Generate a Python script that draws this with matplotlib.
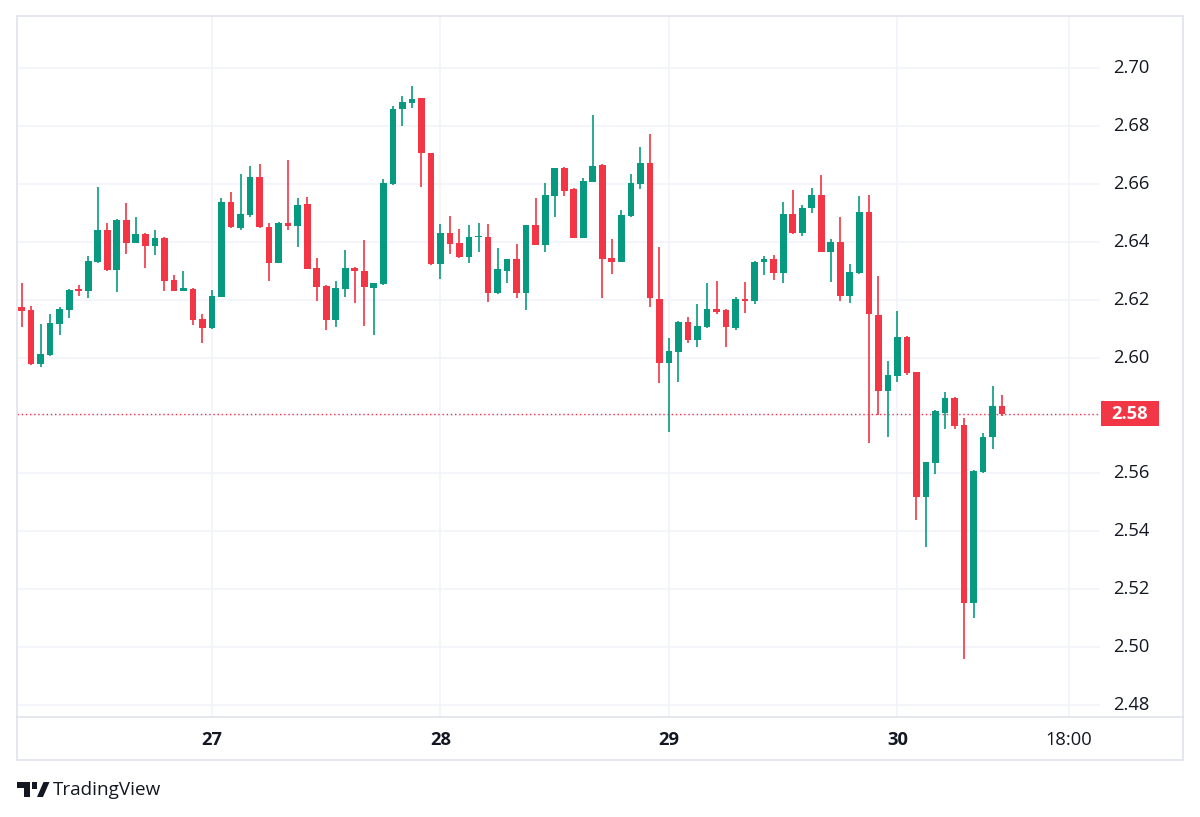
import numpy as np
import matplotlib
matplotlib.use("Agg")
import matplotlib.pyplot as plt
from matplotlib.patches import Rectangle, Polygon
from matplotlib.transforms import blended_transform_factory

# ---------------- data (hourly candles, first = 26th 04:00) ----------------
first_hour = 4
opens = [2.6174, 2.6164, 2.5978, 2.6009, 2.6116, 2.6164, 2.6235, 2.6231, 2.6331, 2.6440,
         2.6302, 2.6475, 2.6397, 2.6427, 2.6385, 2.6413, 2.6268, 2.6231, 2.6236, 2.6132,
         2.6101, 2.6210, 2.6536, 2.6446, 2.6492, 2.6625, 2.6452, 2.6328, 2.6466, 2.6454,
         2.6530, 2.6309, 2.6247, 2.6130, 2.6236, 2.6309, 2.6300, 2.6241, 2.6254, 2.6599,
         2.6857, 2.6878, 2.6895, 2.6705, 2.6323, 2.6429, 2.6395, 2.6346, 2.6415, 2.6417,
         2.6222, 2.6300, 2.6339, 2.6222, 2.6457, 2.6389, 2.6559, 2.6656, 2.6581, 2.6414,
         2.6607, 2.6665, 2.6343, 2.6331, 2.6489, 2.6599, 2.6673, 2.6201, 2.5982, 2.6020,
         2.6124, 2.6061, 2.6106, 2.6167, 2.6164, 2.6101, 2.6202, 2.6196, 2.6331, 2.6339,
         2.6293, 2.6496, 2.6429, 2.6515, 2.6561, 2.6366, 2.6400, 2.6212, 2.6291, 2.6504,
         2.6147, 2.5885, 2.5936, 2.6072, 2.5949, 2.5517, 2.5637, 2.5809, 2.5861, 2.5766,
         2.5151, 2.5604, 2.5724, 2.5833]
highs = [2.6256, 2.6178, 2.6116, 2.6150, 2.6176, 2.6235, 2.6250, 2.6351, 2.6590, 2.6466,
         2.6477, 2.6533, 2.6484, 2.6429, 2.6440, 2.6415, 2.6285, 2.6300, 2.6239, 2.6150,
         2.6233, 2.6550, 2.6571, 2.6634, 2.6663, 2.6667, 2.6466, 2.6468, 2.6682, 2.6550,
         2.6553, 2.6343, 2.6249, 2.6264, 2.6371, 2.6311, 2.6406, 2.6258, 2.6616, 2.6869,
         2.6903, 2.6938, 2.6897, 2.6707, 2.6461, 2.6489, 2.6443, 2.6458, 2.6466, 2.6461,
         2.6377, 2.6341, 2.6392, 2.6459, 2.6550, 2.6602, 2.6656, 2.6658, 2.6584, 2.6619,
         2.6838, 2.6667, 2.6408, 2.6510, 2.6633, 2.6728, 2.6772, 2.6383, 2.6066, 2.6126,
         2.6141, 2.6185, 2.6256, 2.6264, 2.6166, 2.6208, 2.6262, 2.6334, 2.6351, 2.6354,
         2.6538, 2.6579, 2.6527, 2.6584, 2.6630, 2.6408, 2.6484, 2.6322, 2.6558, 2.6561,
         2.6282, 2.5989, 2.6161, 2.6074, 2.5951, 2.5640, 2.5819, 2.5880, 2.5863, 2.5790,
         2.5611, 2.5740, 2.5902, 2.5871]
lows = [2.6104, 2.5975, 2.5967, 2.6005, 2.6078, 2.6137, 2.6212, 2.6206, 2.6328, 2.6300,
        2.6227, 2.6358, 2.6395, 2.6308, 2.6354, 2.6231, 2.6229, 2.6229, 2.6112, 2.6049,
        2.6099, 2.6208, 2.6448, 2.6440, 2.6484, 2.6448, 2.6265, 2.6326, 2.6440, 2.6381,
        2.6304, 2.6196, 2.6095, 2.6104, 2.6210, 2.6187, 2.6109, 2.6078, 2.6252, 2.6597,
        2.6801, 2.6861, 2.6590, 2.6321, 2.6270, 2.6358, 2.6344, 2.6328, 2.6366, 2.6193,
        2.6220, 2.6258, 2.6205, 2.6164, 2.6387, 2.6366, 2.6485, 2.6559, 2.6412, 2.6412,
        2.6605, 2.6205, 2.6288, 2.6329, 2.6487, 2.6581, 2.6173, 2.5911, 2.5744, 2.5916,
        2.6049, 2.6035, 2.6101, 2.6150, 2.6037, 2.6095, 2.6153, 2.6185, 2.6285, 2.6268,
        2.6258, 2.6427, 2.6420, 2.6500, 2.6364, 2.6262, 2.6196, 2.6187, 2.6289, 2.5704,
        2.5801, 2.5727, 2.5916, 2.5940, 2.5439, 2.5347, 2.5597, 2.5753, 2.5753, 2.4958,
        2.5101, 2.5602, 2.5684, 2.5798]
closes = [2.6162, 2.5978, 2.6012, 2.6120, 2.6169, 2.6233, 2.6231, 2.6334, 2.6440, 2.6302,
          2.6475, 2.6397, 2.6427, 2.6385, 2.6413, 2.6265, 2.6231, 2.6239, 2.6130, 2.6101,
          2.6212, 2.6538, 2.6450, 2.6496, 2.6625, 2.6450, 2.6328, 2.6466, 2.6454, 2.6527,
          2.6306, 2.6245, 2.6130, 2.6239, 2.6309, 2.6298, 2.6243, 2.6256, 2.6602, 2.6858,
          2.6882, 2.6893, 2.6705, 2.6323, 2.6429, 2.6392, 2.6346, 2.6417, 2.6420, 2.6222,
          2.6305, 2.6339, 2.6222, 2.6457, 2.6389, 2.6561, 2.6654, 2.6576, 2.6414, 2.6611,
          2.6663, 2.6339, 2.6331, 2.6492, 2.6602, 2.6671, 2.6205, 2.5982, 2.6024, 2.6124,
          2.6061, 2.6110, 2.6167, 2.6158, 2.6104, 2.6202, 2.6196, 2.6331, 2.6339, 2.6293,
          2.6496, 2.6429, 2.6517, 2.6561, 2.6366, 2.6400, 2.6212, 2.6294, 2.6504, 2.6149,
          2.5885, 2.5940, 2.6072, 2.5946, 2.5517, 2.5638, 2.5815, 2.5861, 2.5763, 2.5151,
          2.5608, 2.5727, 2.5833, 2.5805]

price_ticks = [2.48, 2.50, 2.52, 2.54, 2.56, 2.58, 2.60, 2.62, 2.64, 2.66, 2.68, 2.70]
time_tick_hours = [24, 48, 72, 96, 114]
time_tick_labels = ["27", "28", "29", "30", "18:00"]
time_tick_bold = [True, True, True, True, False]
last_label = "2.58"

# ---------------- styling ----------------
UP = "#089981"
DOWN = "#F23645"
GRID = "#F0F3FA"
BORDER = "#E0E3EB"
TEXT = "#131722"
FONT = ["Open Sans", "DejaVu Sans"]

W, H = 1200, 817
fig = plt.figure(figsize=(W / 100, H / 100), dpi=100)
fig.patch.set_facecolor("white")


def fx(px):
    return px / W


def fy(py):
    return 1 - py / H


# plot area: x 17..1100, y 15..717
ax = fig.add_axes([fx(17), fy(717), fx(1100) - fx(17), fy(15) - fy(717)])
ax.set_facecolor("white")
for s in ax.spines.values():
    s.set_visible(False)
ax.set_xticks([])
ax.set_yticks([])

hours = np.arange(first_hour, first_hour + len(opens))
ax.set_xlim(3.52, 117.28)
ax.set_ylim(2.47582, 2.71831)

# grid
for p in price_ticks:
    ax.axhline(p, color=GRID, lw=1.1, zorder=0)
for h in time_tick_hours:
    ax.axvline(h, color=GRID, lw=1.1, zorder=0)

o = np.array(opens); c = np.array(closes)
hi = np.array(highs); lo = np.array(lows)
colors = np.where(c >= o, UP, DOWN)
ax.vlines(hours, lo, hi, colors=colors, lw=1.2, zorder=2)
body_bottom = np.minimum(o, c)
body_h = np.maximum(np.abs(c - o), 0.0004)
ax.bar(hours, body_h, bottom=body_bottom, width=0.7, color=colors, lw=0, zorder=3)

# last price dotted line
last = closes[-1]
ax.axhline(last, color=DOWN, lw=1.0, ls=(0, (1, 2)), zorder=1)

# price labels
tr_y = blended_transform_factory(fig.transFigure, ax.transData)
for p in price_ticks:
    if abs(p - 2.58) < 1e-9:
        continue
    fig.text(fx(1131), p, f"{p:.2f}", transform=tr_y, ha="center", va="center",
             fontsize=13.2, color=TEXT, family=FONT)

# last price box
y_disp = ax.transData.transform((0, last))[1]
y_px_center = H - y_disp
fig.patches.append(Rectangle((fx(1101), fy(y_px_center + 12.5)), fx(58), 25 / H,
                             transform=fig.transFigure, facecolor=DOWN, edgecolor="none",
                             zorder=5))
fig.text(fx(1130), fy(y_px_center), last_label, ha="center", va="center",
         fontsize=13.2, color="white", fontweight="bold", family=FONT, zorder=6)

# time labels
tr_x = blended_transform_factory(ax.transData, fig.transFigure)
for h, lab, b in zip(time_tick_hours, time_tick_labels, time_tick_bold):
    fig.text(h, fy(740), lab, transform=tr_x, ha="center", va="center",
             fontsize=13.2, color=TEXT, family=FONT,
             fontweight="bold" if b else "normal")

# outer frame and time-axis separator
fig.patches.append(Rectangle((fx(16.5), fy(760)), fx(1183 - 16.5), (760 - 15.5) / H,
                             transform=fig.transFigure, facecolor="none",
                             edgecolor=BORDER, lw=1.2, zorder=4))
fig.lines.append(plt.Line2D([fx(16.5), fx(1183)], [fy(717), fy(717)],
                            transform=fig.transFigure, color=BORDER, lw=1.2))

# TradingView logo mark
logo = [
    Polygon([(fx(17), fy(782)), (fx(30), fy(782)), (fx(30), fy(797)), (fx(24), fy(797)),
             (fx(24), fy(788)), (fx(17), fy(788))], closed=True),
    Polygon([(fx(37), fy(797)), (fx(43.5), fy(782)), (fx(49.5), fy(782)), (fx(43), fy(797))],
            closed=True),
]
for pgn in logo:
    pgn.set_transform(fig.transFigure)
    pgn.set_facecolor(TEXT)
    pgn.set_edgecolor("none")
    fig.patches.append(pgn)
fig.patches.append(Rectangle((fx(31.5), fy(788.5)), fx(5), 6.5 / H, transform=fig.transFigure,
                             facecolor=TEXT, edgecolor="none"))
fig.text(fx(53), fy(790), "TradingView", ha="left", va="center", fontsize=13.6,
         color=TEXT, family=FONT)

fig.savefig("out.png", dpi=100, facecolor="white")
